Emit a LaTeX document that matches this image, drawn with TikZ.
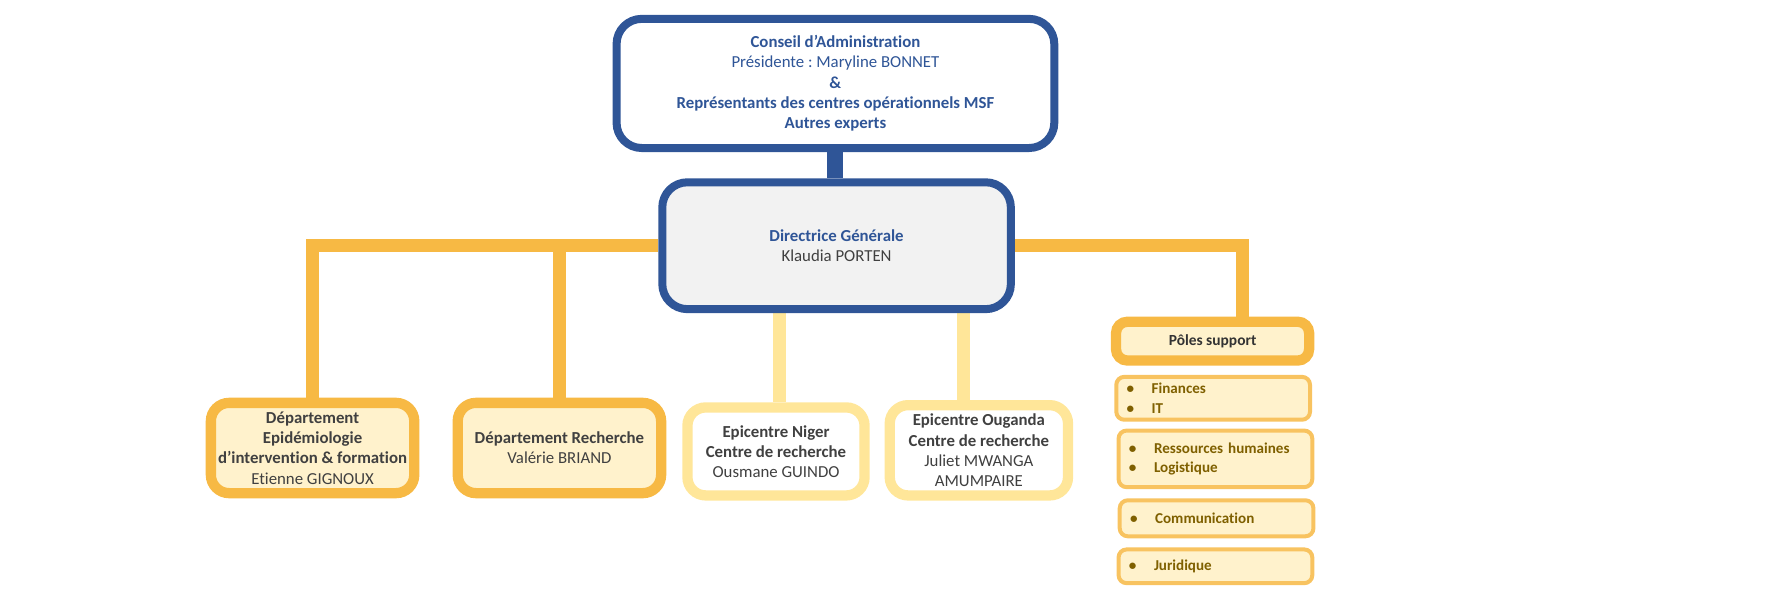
\documentclass[tikz,border=0pt]{standalone}
\usepackage{fontspec}
\setmainfont{Carlito}[Ligatures=NoCommon]
\usetikzlibrary{backgrounds}
\definecolor{mblue}{HTML}{2F5597}
\definecolor{morange}{HTML}{F7B944}
\definecolor{mlight}{HTML}{FFE699}
\definecolor{mfill}{HTML}{FFF2CC}
\definecolor{mgrey}{HTML}{F2F2F2}
\definecolor{mtext}{HTML}{404040}
\definecolor{molive}{HTML}{7F6000}
\frenchspacing
\begin{document}
\begin{tikzpicture}[x=1pt,y=-1pt,
 base/.style={inner sep=0pt, align=center, font=\fontsize{14.7}{17.7}\selectfont},
 bluebox/.style={base, draw=mblue, line width=7pt, rounded corners=22pt},
 orangebox/.style={base, draw=morange, fill=mfill, line width=9pt, rounded corners=16pt, text=mtext},
 lightbox/.style={base, draw=mlight, fill=white, line width=9pt, rounded corners=16pt, text=mtext},
 polesbox/.style={base, draw=morange, fill=mfill, line width=9pt, rounded corners=10pt, text=mtext!80!black, font=\fontsize{13.5}{17}\selectfont\bfseries},
 subbox/.style={inner sep=0pt, draw=morange!85, fill=mfill, line width=3.5pt, rounded corners=7pt, text=molive, align=left, text width=169.5pt, font=\fontsize{13.2}{17}\selectfont\bfseries},
 bline/.style={draw=mblue, line width=14pt},
 oline/.style={draw=morange, line width=11pt},
 lline/.style={draw=mlight, line width=11pt},
]
\useasboundingbox (0,0) rectangle (1568,523);

\node[bluebox, fill=white, text=mblue, minimum width=383pt, minimum height=113pt] (ca) at (731,73)
 {\textbf{Conseil d’Administration}\\Présidente : Maryline BONNET\\\textbf{\&}\\\textbf{Représentants des centres opérationnels MSF}\\\textbf{Autres experts}};

\node[bluebox, fill=mgrey, minimum width=305pt, minimum height=111pt] (dg) at (732,215)
 {\textcolor{mblue}{\textbf{Directrice Générale}}\\\textcolor{mtext}{Klaudia PORTEN}};

\node[orangebox, minimum width=178pt, minimum height=79pt] (d1) at (273.5,392)
 {\textbf{Département}\\\textbf{Epidémiologie}\\\textbf{d’intervention \& formation}\\Etienne GIGNOUX};
\node[orangebox, minimum width=178pt, minimum height=79pt] (d2) at (489.5,392)
 {\textbf{Département Recherche}\\Valérie BRIAND};
\node[lightbox, minimum width=155pt, minimum height=77pt] (d3) at (679,395)
 {\textbf{Epicentre Niger}\\\textbf{Centre de recherche}\\Ousmane GUINDO};
\node[lightbox, minimum width=156pt, minimum height=79pt] (d4) at (856.5,394)
 {\textbf{Epicentre Ouganda}\\\textbf{Centre de recherche}\\Juliet MWANGA\\AMUMPAIRE};

\node[polesbox, minimum width=169pt, minimum height=34pt] (ps) at (1061,298.5) {Pôles support};

\newcommand\bul[1]{\hspace*{9pt}\makebox[22pt][l]{•}#1}
\node[subbox, minimum height=37.5pt] (s1) at (1061.5,348.5) {\bul{Finances}\\\bul{IT}};
\node[subbox, minimum height=49.5pt] (s2) at (1063.5,401.5) {\bul{Ressources humaines}\\\bul{Logistique}};
\node[subbox, minimum height=31.5pt] (s3) at (1064.5,453.5) {\bul{Communication}};
\node[subbox, minimum height=29.5pt] (s4) at (1063.5,495.5) {\bul{Juridique}};

\begin{scope}[on background layer]
\draw[bline] (ca.south) -- (ca.south |- dg.north);
\draw[oline] (dg.west) -| (d1.north);
\draw[oline] (dg.west -| d2.north) -- (d2.north);
\draw[oline] (dg.east) -| ([xshift=26pt]ps.north);
\draw[lline] ([xshift=3pt]d3.north |- dg.south) -- ([xshift=3pt]d3.north);
\draw[lline] ([xshift=-13.5pt]d4.north |- dg.south) -- ([xshift=-13.5pt]d4.north);
\end{scope}
\end{tikzpicture}
\end{document}
